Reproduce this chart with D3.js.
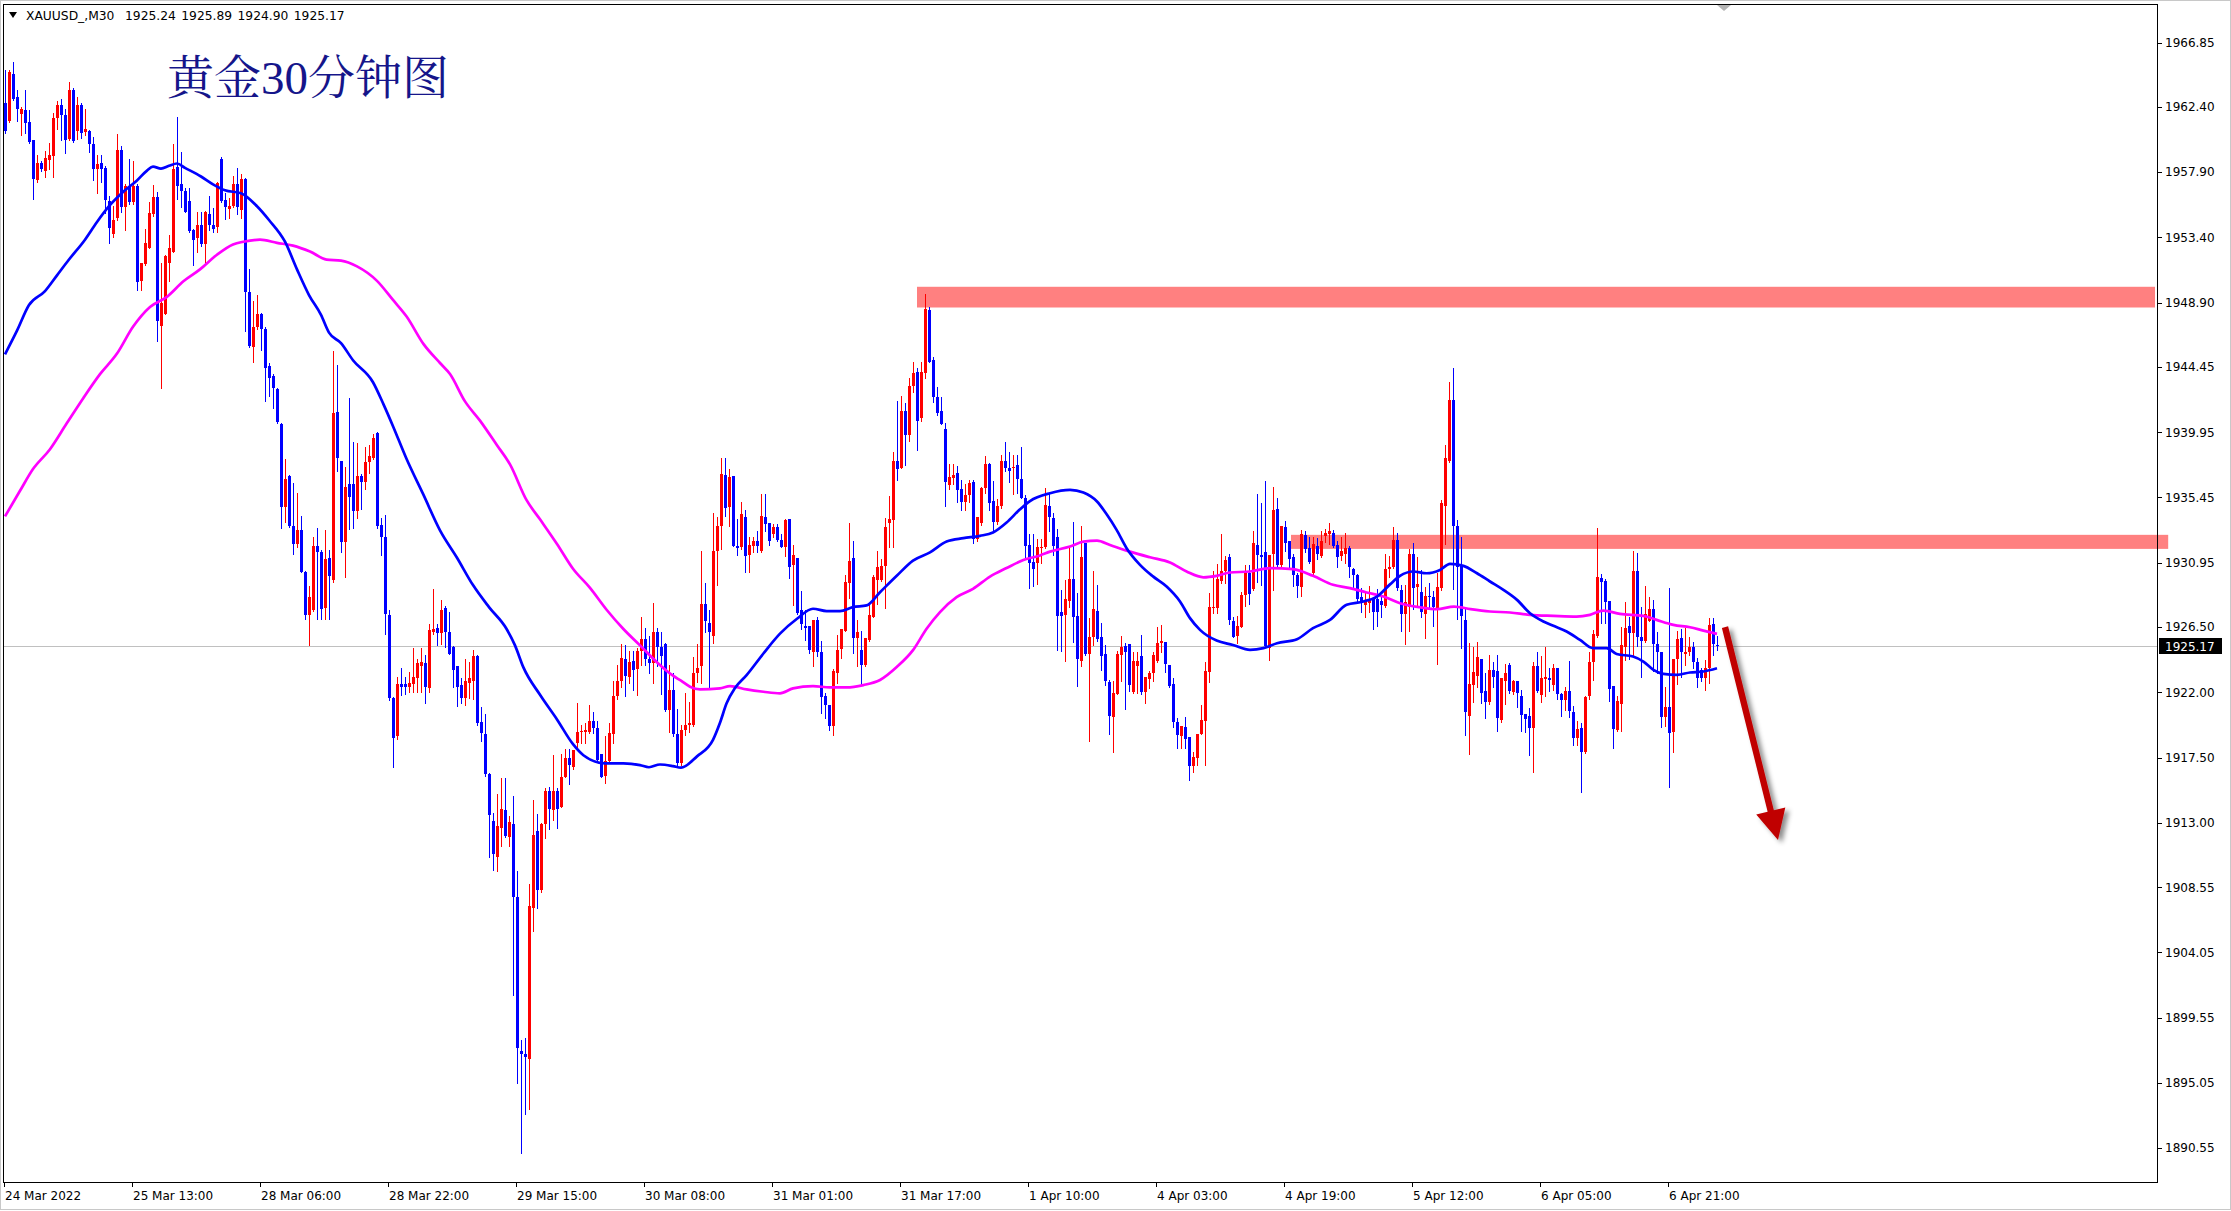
<!DOCTYPE html>
<html><head><meta charset="utf-8">
<script src="https://d3js.org/d3.v7.min.js"></script>
<style>html,body{margin:0;padding:0;background:#fff;overflow:hidden}</style>
</head><body>
<svg id="chart" width="2231" height="1211"></svg>
<script>
// ---------------- DATA ----------------
const symbolName = "XAUUSD_,M30";
const symbolQuotes = "1925.24 1925.89 1924.90 1925.17";
const chartTitle = "黄金30分钟图";
const lastPrice = 1925.17;
// [open, high, low, close] per 30-minute bar
const candles = [
[1962.65,1964.97,1960.6,1960.74],[1961.42,1964.97,1961.37,1964.83],[1964.69,1965.51,1962.85,1962.92],[1963.06,1963.6,1961.42,1962.24],
[1961.91,1962.37,1960.46,1962.24],[1962.18,1963.6,1960.6,1961.28],[1961.36,1962.18,1959.92,1960.0],[1960.11,1960.11,1956.02,1957.46],
[1957.33,1959.1,1957.19,1958.56],[1958.56,1958.69,1958.01,1958.15],[1958.01,1959.37,1957.6,1958.91],[1958.75,1959.92,1958.15,1959.1],
[1959.02,1961.96,1957.6,1961.64],[1961.64,1962.78,1960.87,1962.57],[1962.57,1962.92,1960.11,1961.83],[1961.83,1962.24,1959.24,1960.11],
[1960.19,1964.09,1960.11,1963.6],[1963.6,1963.74,1960.0,1960.06],[1960.74,1963.11,1960.19,1962.51],[1962.57,1962.7,1960.27,1960.6],
[1960.66,1962.24,1960.46,1960.87],[1960.74,1960.8,1959.29,1959.84],[1959.84,1960.33,1957.38,1958.09],[1958.09,1959.1,1956.45,1958.47],
[1958.56,1959.1,1957.19,1958.09],[1958.2,1958.3,1955.09,1955.96],[1955.91,1956.24,1953.02,1954.05],[1953.64,1955.55,1953.45,1954.6],
[1954.74,1960.55,1954.6,1959.43],[1959.43,1959.7,1955.15,1955.47],[1955.5,1957.06,1953.92,1956.92],[1956.92,1958.83,1955.69,1955.83],
[1955.83,1958.64,1955.69,1956.92],[1956.92,1957.11,1949.74,1950.29],[1950.37,1951.6,1949.74,1951.6],[1951.54,1953.97,1951.46,1953.04],
[1952.64,1955.83,1952.64,1955.09],[1955.01,1957.0,1954.87,1956.18],[1956.18,1956.56,1946.28,1947.64],[1947.29,1951.6,1943.0,1948.87],
[1948.1,1952.2,1948.1,1952.09],[1951.6,1953.56,1950.37,1952.69],[1952.42,1959.84,1952.42,1958.15],[1958.28,1961.69,1956.02,1956.92],
[1957.06,1959.29,1955.47,1956.59],[1956.62,1956.78,1955.15,1955.15],[1955.88,1956.84,1953.78,1953.84],[1953.92,1954.0,1951.46,1953.24],
[1953.37,1955.15,1952.42,1954.24],[1954.24,1955.15,1952.83,1952.96],[1952.96,1955.2,1951.6,1955.15],[1955.01,1956.29,1953.92,1954.27],
[1954.27,1955.42,1953.78,1954.0],[1954.11,1957.19,1953.78,1957.14],[1958.83,1958.96,1955.83,1955.91],[1955.96,1956.45,1954.65,1955.47],
[1955.36,1956.1,1954.74,1955.55],[1955.55,1957.65,1955.47,1957.06],[1957.11,1958.2,1955.01,1955.47],[1955.28,1957.74,1954.74,1957.46],
[1957.46,1957.5,1946.91,1949.63],[1949.63,1951.19,1945.81,1945.87],[1945.81,1949.0,1944.78,1947.23],[1947.18,1949.42,1947.1,1948.1],
[1948.1,1948.2,1945.6,1947.1],[1947.1,1947.18,1942.1,1944.37],[1944.51,1944.72,1942.46,1943.69],[1943.83,1943.96,1941.64,1943.0],
[1942.92,1943.0,1940.6,1940.69],[1940.55,1940.6,1933.32,1934.82],[1934.82,1938.09,1933.73,1936.73],[1936.92,1937.0,1933.4,1933.46],
[1933.46,1936.46,1931.55,1932.23],[1932.23,1935.77,1932.0,1933.19],[1933.19,1934.14,1930.3,1930.32],[1930.32,1930.4,1927.05,1927.32],
[1927.32,1929.37,1925.3,1928.55],[1927.65,1932.72,1927.6,1932.09],[1932.09,1933.32,1927.05,1931.68],[1931.68,1931.82,1927.05,1927.73],
[1927.81,1933.19,1927.05,1931.2],[1931.28,1931.82,1927.05,1930.05],[1929.77,1945.54,1929.64,1941.29],[1941.37,1944.56,1937.28,1938.18],
[1937.96,1938.0,1931.68,1932.37],[1932.37,1937.54,1929.97,1936.18],[1936.4,1942.34,1933.26,1935.45],[1936.4,1939.31,1933.37,1934.51],
[1934.51,1939.24,1934.0,1936.9],[1936.9,1937.04,1934.62,1936.51],[1936.51,1938.94,1936.02,1937.91],[1937.91,1939.05,1937.16,1938.29],
[1938.18,1939.81,1938.1,1939.54],[1939.92,1940.0,1933.37,1933.49],[1933.56,1934.0,1931.48,1932.73],[1932.73,1934.24,1926.0,1927.43],
[1927.32,1927.7,1921.5,1921.64],[1921.64,1921.7,1916.83,1918.88],[1918.99,1923.04,1918.8,1922.58],[1922.58,1923.65,1921.83,1922.4],
[1922.58,1923.04,1921.9,1922.4],[1922.4,1923.42,1922.02,1922.66],[1922.58,1925.05,1922.02,1923.04],[1922.96,1924.29,1922.02,1924.02],
[1923.8,1925.05,1922.02,1924.1],[1924.02,1924.55,1921.26,1922.4],[1922.28,1926.75,1922.02,1926.3],[1926.18,1929.1,1926.0,1926.37],
[1926.45,1926.75,1925.24,1926.07],[1926.07,1928.34,1925.31,1927.7],[1927.81,1927.96,1925.16,1926.18],[1926.18,1927.51,1924.67,1924.67],
[1925.16,1925.2,1922.4,1923.53],[1923.8,1923.8,1921.07,1922.4],[1922.5,1922.96,1921.26,1921.64],[1921.64,1924.29,1921.15,1922.77],
[1922.66,1924.1,1921.64,1922.96],[1922.77,1924.93,1921.53,1924.48],[1924.48,1924.55,1919.75,1919.86],[1919.94,1921.0,1918.61,1919.18],
[1919.1,1920.5,1916.23,1916.34],[1916.34,1916.45,1910.66,1913.5],[1913.12,1913.69,1909.72,1910.85],[1910.66,1915.01,1909.64,1912.74],
[1912.67,1916.07,1911.42,1913.95],[1913.88,1916.07,1912.0,1912.06],[1911.99,1913.43,1911.42,1913.05],[1912.93,1914.83,1901.09,1907.9],
[1907.9,1909.64,1895.03,1897.42],[1897.22,1898.0,1890.22,1897.04],[1897.04,1898.17,1892.87,1896.85],[1896.66,1908.77,1893.25,1907.26],
[1907.14,1914.56,1905.55,1912.18],[1912.44,1913.58,1907.14,1908.39],[1908.39,1913.0,1908.2,1912.93],[1912.93,1915.39,1911.92,1915.2],
[1915.2,1915.47,1912.56,1913.95],[1913.88,1917.66,1913.2,1915.2],[1915.2,1915.39,1912.67,1913.95],[1914.07,1917.74,1914.07,1916.15],
[1916.15,1918.12,1916.15,1917.47],[1917.47,1918.12,1915.7,1916.98],[1916.83,1918.04,1916.72,1918.04],[1918.5,1921.26,1918.23,1919.25],
[1919.25,1919.75,1918.5,1919.33],[1919.25,1919.86,1918.5,1919.37],[1919.25,1921.15,1919.18,1920.01],[1920.01,1920.62,1919.18,1919.56],
[1919.56,1920.01,1917.28,1917.36],[1917.74,1917.74,1916.15,1916.15],[1916.23,1918.99,1915.77,1917.28],[1917.28,1919.86,1917.28,1919.18],
[1919.1,1922.77,1918.5,1921.75],[1921.77,1923.91,1921.53,1922.77],[1922.77,1925.31,1922.4,1924.4],[1924.29,1925.24,1921.75,1923.15],
[1923.04,1924.86,1922.66,1924.1],[1924.17,1924.86,1922.13,1923.53],[1923.61,1925.05,1921.83,1924.86],[1924.86,1927.2,1923.91,1925.69],
[1925.69,1926.45,1923.91,1924.29],[1924.29,1925.92,1923.34,1924.02],[1924.02,1928.19,1922.66,1926.18],[1926.18,1926.45,1923.8,1925.16],
[1925.16,1926.18,1921.91,1924.48],[1925.31,1925.4,1920.7,1920.77],[1920.77,1923.91,1919.25,1922.13],[1922.13,1923.34,1918.99,1919.1],
[1919.1,1920.88,1916.98,1917.09],[1917.09,1919.75,1916.98,1919.37],[1919.37,1921.93,1919.07,1919.76],[1919.76,1921.36,1919.23,1919.87],
[1919.76,1924.45,1919.69,1923.35],[1923.3,1925.32,1922.73,1923.65],[1923.81,1931.73,1922.66,1928.11],[1928.11,1929.53,1926.16,1926.92],
[1926.78,1927.7,1922.27,1926.16],[1925.87,1934.4,1925.41,1931.73],[1931.73,1934.11,1929.44,1933.49],[1933.49,1938.14,1931.89,1937.04],
[1936.99,1938.14,1934.18,1934.75],[1934.79,1937.38,1933.49,1936.85],[1936.92,1936.92,1932.12,1932.12],[1932.12,1933.95,1931.5,1931.96],
[1932.0,1935.16,1931.89,1934.34],[1934.11,1934.57,1930.28,1931.43],[1931.5,1932.73,1930.28,1932.18],[1932.12,1932.73,1931.66,1932.46],
[1932.41,1933.15,1931.66,1932.12],[1931.73,1935.71,1931.66,1934.18],[1934.11,1935.71,1933.1,1933.65],[1933.72,1933.72,1932.18,1932.41],
[1932.92,1933.6,1932.69,1933.42],[1933.42,1933.6,1932.46,1932.5],[1932.5,1932.92,1932.0,1932.05],[1932.05,1933.95,1931.43,1933.88],
[1933.95,1933.95,1929.9,1930.67],[1930.81,1932.18,1928.06,1931.5],[1931.27,1931.27,1927.42,1927.47],[1927.65,1928.98,1926.39,1926.69],
[1926.55,1927.7,1925.59,1926.46],[1926.55,1926.55,1924.72,1924.95],[1924.79,1927.01,1923.81,1927.01],[1927.01,1927.2,1924.49,1924.79],
[1924.79,1925.55,1920.55,1921.7],[1921.75,1921.93,1920.21,1921.13],[1921.13,1921.13,1919.41,1919.69],[1919.69,1923.58,1919.07,1923.49],
[1923.35,1925.94,1922.66,1924.95],[1925.02,1926.39,1924.4,1926.39],[1926.23,1930.12,1926.23,1929.6],[1929.53,1933.72,1928.52,1931.09],
[1931.27,1932.46,1924.68,1925.78],[1925.78,1927.01,1923.81,1926.16],[1924.95,1926.23,1922.5,1923.88],[1923.88,1925.78,1923.81,1925.78],
[1925.64,1928.0,1925.55,1927.31],[1927.2,1930.12,1927.2,1929.99],[1929.76,1931.73,1928.11,1930.67],[1929.76,1931.2,1929.71,1930.74],
[1930.74,1934.06,1927.84,1933.42],[1933.72,1935.55,1932.0,1933.95],[1933.88,1938.59,1932.0,1938.0],[1937.95,1942.12,1936.63,1937.38],
[1937.49,1942.48,1937.45,1941.39],[1941.39,1941.96,1937.68,1939.78],[1939.78,1943.72,1939.33,1943.17],[1943.17,1944.77,1942.71,1944.02],
[1944.09,1944.36,1938.75,1940.75],[1940.93,1944.77,1940.75,1944.13],[1944.02,1949.51,1943.72,1948.48],[1948.37,1948.6,1944.77,1944.82],
[1944.93,1945.16,1942.03,1942.35],[1942.35,1943.1,1941.16,1941.27],[1941.39,1942.35,1940.52,1940.52],[1940.2,1940.58,1934.86,1936.53],
[1936.3,1937.77,1936.0,1936.85],[1936.76,1937.77,1936.35,1936.99],[1937.15,1937.61,1935.16,1935.94],[1936.0,1936.63,1934.57,1935.16],
[1935.16,1936.35,1934.57,1935.62],[1935.62,1936.63,1935.16,1936.46],[1936.53,1936.63,1932.28,1932.57],[1932.57,1934.11,1932.41,1934.11],
[1933.72,1936.17,1933.56,1936.08],[1936.08,1938.3,1935.78,1937.77],[1937.77,1937.84,1934.57,1935.09],[1935.2,1936.58,1933.19,1933.79],
[1933.79,1935.32,1933.65,1934.86],[1934.86,1938.36,1934.7,1938.0],[1937.95,1939.28,1937.31,1937.5],[1937.5,1938.59,1936.53,1937.31],
[1937.45,1938.41,1935.71,1937.54],[1937.68,1938.41,1935.78,1936.69],[1936.69,1938.91,1935.43,1935.43],[1935.43,1935.62,1931.36,1932.12],
[1932.18,1932.92,1929.21,1930.9],[1930.97,1932.92,1929.37,1930.51],[1930.9,1932.6,1929.5,1932.06],[1931.99,1932.57,1930.91,1932.05],
[1932.01,1936.09,1931.95,1934.94],[1934.87,1935.74,1933.1,1934.08],[1934.01,1934.4,1931.48,1932.11],[1932.7,1933.25,1924.93,1927.28],
[1927.51,1929.07,1924.88,1927.28],[1927.35,1929.76,1924.19,1928.43],[1928.27,1931.95,1927.9,1929.81],[1929.81,1933.79,1925.5,1927.18],
[1927.28,1928.84,1922.45,1924.29],[1924.13,1933.49,1923.83,1931.32],[1932.29,1932.29,1924.58,1924.65],[1924.65,1927.11,1918.67,1925.8],
[1925.8,1930.4,1925.27,1927.74],[1927.58,1929.42,1925.57,1925.67],[1925.8,1926.77,1923.55,1924.52],[1924.65,1925.27,1922.51,1922.81],
[1922.68,1922.86,1919.13,1920.38],[1920.33,1922.75,1917.85,1921.94],[1921.9,1924.88,1921.9,1924.65],[1924.59,1925.9,1922.75,1925.11],
[1925.21,1925.39,1920.84,1924.81],[1925.34,1925.34,1922.12,1922.51],[1922.05,1924.81,1921.98,1924.19],[1923.83,1924.81,1921.94,1924.19],
[1924.52,1925.96,1921.89,1922.05],[1922.05,1923.09,1921.25,1923.09],[1922.91,1923.44,1922.29,1923.32],[1923.32,1924.81,1922.75,1924.59],
[1924.19,1926.54,1924.06,1925.39],[1925.39,1926.65,1924.75,1925.57],[1925.44,1925.5,1923.37,1923.96],[1923.9,1923.9,1922.4,1922.45],
[1922.58,1922.98,1919.59,1919.92],[1919.92,1920.21,1918.14,1919.06],[1918.99,1919.69,1918.14,1919.69],[1919.64,1920.28,1918.14,1918.77],
[1918.9,1918.9,1915.96,1916.93],[1916.93,1917.85,1916.47,1917.52],[1917.46,1919.13,1916.99,1919.13],[1919.13,1921.14,1919.13,1920.1],
[1919.99,1924.06,1916.99,1923.44],[1923.37,1928.84,1922.68,1927.92],[1927.87,1930.34,1927.5,1927.92],[1927.81,1930.86,1927.5,1929.81],
[1929.71,1932.93,1929.57,1930.4],[1930.34,1931.42,1929.57,1931.14],[1931.32,1931.55,1926.72,1927.0],[1926.95,1927.18,1925.8,1925.85],
[1925.9,1927.28,1925.39,1926.59],[1926.54,1928.95,1926.5,1928.72],[1928.72,1930.8,1927.97,1930.27],[1930.27,1930.8,1928.1,1928.79],
[1929.12,1933.16,1929.07,1932.29],[1932.17,1935.69,1929.58,1931.48],[1931.48,1935.1,1929.42,1931.32],[1931.71,1936.61,1925.16,1925.21],
[1925.05,1931.5,1924.24,1931.48],[1931.55,1936.15,1929.07,1934.59],[1934.64,1935.4,1930.72,1930.8],[1930.8,1933.49,1930.72,1933.49],
[1933.44,1933.85,1931.78,1932.34],[1932.41,1932.41,1930.63,1931.19],[1931.32,1931.55,1929.35,1930.1],[1930.1,1930.27,1928.61,1929.35],
[1929.3,1933.21,1928.66,1932.93],[1932.86,1933.1,1931.71,1931.88],[1931.95,1932.7,1930.96,1931.02],[1930.27,1932.7,1930.18,1932.24],
[1932.1,1932.63,1931.19,1931.55],[1931.42,1933.16,1931.32,1932.47],[1932.79,1933.25,1932.4,1933.03],[1932.93,1933.72,1932.24,1933.1],
[1933.03,1933.21,1932.01,1932.1],[1932.17,1932.47,1930.63,1931.32],[1931.42,1932.7,1931.14,1931.78],[1931.55,1933.03,1930.96,1931.95],
[1931.95,1932.1,1929.94,1930.68],[1930.5,1930.56,1929.3,1930.1],[1930.1,1930.17,1928.33,1928.43],[1928.61,1929.18,1927.51,1928.33],
[1928.03,1928.84,1927.23,1928.33],[1928.15,1929.35,1927.51,1928.43],[1928.43,1928.43,1926.36,1927.51],[1928.43,1929.12,1926.59,1927.51],
[1928.33,1928.61,1927.23,1928.03],[1927.97,1931.55,1927.92,1930.5],[1930.5,1931.42,1929.94,1930.68],[1930.68,1933.39,1930.57,1932.52],
[1932.52,1933.03,1929.03,1929.19],[1929.03,1929.42,1926.26,1927.41],[1927.41,1929.42,1925.34,1928.26],[1927.87,1931.88,1926.2,1931.55],
[1931.55,1932.29,1927.74,1929.19],[1929.26,1931.37,1927.92,1929.48],[1928.89,1930.45,1927.18,1927.51],[1927.41,1929.3,1925.73,1928.66],
[1928.66,1929.53,1927.8,1928.56],[1928.56,1928.96,1926.59,1927.87],[1927.8,1930.22,1923.96,1929.3],[1929.19,1935.24,1929.07,1935.05],
[1934.87,1939.08,1932.24,1938.16],[1938.0,1943.45,1937.93,1942.18],[1942.18,1944.37,1929.12,1933.49],[1933.49,1933.9,1927.05,1930.63],
[1930.8,1932.75,1925.05,1927.28],[1926.99,1927.74,1919.06,1920.67],[1920.38,1925.39,1917.75,1922.58],[1922.52,1925.11,1921.3,1923.37],
[1923.14,1925.44,1922.4,1924.42],[1924.29,1924.29,1921.25,1921.94],[1922.06,1923.32,1920.21,1921.3],[1921.3,1924.58,1921.2,1923.55],
[1923.55,1924.06,1922.4,1923.09],[1923.5,1924.58,1919.3,1920.21],[1920.1,1922.98,1919.92,1922.98],[1922.75,1923.96,1921.2,1923.32],
[1923.89,1924.01,1921.94,1922.06],[1921.99,1922.86,1921.89,1922.81],[1922.75,1922.81,1921.02,1921.94],[1921.76,1922.17,1919.3,1920.45],
[1920.52,1920.52,1919.23,1920.15],[1920.38,1920.91,1917.68,1919.53],[1919.53,1924.06,1916.47,1923.83],[1923.83,1924.75,1921.99,1922.06],
[1921.83,1924.52,1921.3,1922.98],[1922.91,1925.16,1921.76,1923.05],[1922.98,1923.67,1922.06,1922.86],[1922.52,1923.96,1922.17,1923.67],
[1923.67,1923.67,1921.53,1921.89],[1921.89,1921.94,1920.38,1921.48],[1921.48,1922.35,1920.75,1922.06],[1922.06,1924.19,1920.33,1920.68],
[1920.61,1921.07,1918.38,1918.84],[1918.84,1919.99,1918.38,1919.46],[1919.53,1919.87,1915.09,1917.91],[1917.85,1921.76,1917.8,1921.66],
[1921.76,1924.81,1921.53,1924.12],[1924.12,1926.31,1922.86,1926.03],[1925.89,1933.32,1925.85,1929.94],[1929.87,1930.17,1926.77,1929.58],
[1929.65,1929.81,1926.77,1928.26],[1928.33,1928.33,1921.43,1922.22],[1922.45,1922.45,1918.14,1919.46],[1919.41,1921.76,1919.36,1921.43],
[1921.2,1926.54,1919.36,1925.27],[1925.16,1928.26,1924.24,1926.43],[1926.59,1927.18,1924.29,1926.08],[1926.08,1931.78,1924.42,1930.34],
[1930.34,1931.6,1925.21,1925.8],[1925.85,1927.92,1923.09,1925.57],[1925.57,1929.35,1925.5,1927.41],[1926.95,1928.61,1926.89,1927.74],
[1927.74,1928.38,1923.44,1925.34],[1925.34,1926.13,1923.32,1924.75],[1924.75,1924.81,1919.64,1920.33],[1920.33,1922.4,1919.69,1920.97],
[1921.02,1929.18,1915.45,1919.18],[1919.23,1924.29,1917.85,1924.29],[1924.29,1926.26,1922.58,1925.67],[1925.74,1926.36,1923.04,1924.81],
[1924.65,1926.43,1923.89,1924.81],[1924.81,1925.8,1924.58,1925.11],[1925.11,1925.44,1923.67,1924.06],[1924.12,1924.35,1922.35,1922.98],
[1923.55,1923.67,1922.81,1922.98],[1922.98,1924.24,1922.17,1923.67],[1923.67,1927.11,1922.63,1926.66],[1926.72,1927.11,1924.59,1925.34],
[1925.24,1925.89,1924.9,1925.17]
];
// moving averages: [bar index, value]
const fastMA = [
[0,1945.33],[3,1946.96],[6,1948.73],[10,1949.69],[13,1950.78],[16,1951.87],[20,1953.24],[23,1954.46],[26,1955.55],[30,1956.65],
[33,1957.33],[35.5,1958.01],[37,1958.28],[39,1958.15],[41,1958.34],[43,1958.5],[45,1958.2],[49,1957.6],[52,1957.06],[55,1956.65],
[59,1956.45],[63,1955.55],[66,1954.6],[70,1953.1],[73,1951.19],[76,1949.42],[79,1948.05],[81,1946.83],[84,1946.1],[87,1944.92],
[92,1943.4],[94.6,1941.89],[97,1940.37],[100.4,1938.1],[104.6,1935.64],[108.75,1933.18],[113,1931.29],[117,1929.4],[121,1927.88],
[125.4,1926.37],[127.5,1925.24],[129.6,1923.72],[133.75,1921.83],[138,1920.13],[142,1918.42],[144.6,1917.66],[150,1917.1],
[154.6,1917.1],[158.75,1916.98],[161,1916.83],[163.75,1917.02],[167,1916.91],[169,1916.8],[173,1917.58],[177,1918.72],
[178.75,1919.9],[180.4,1921.24],[182.5,1922.3],[185.4,1923.19],[189.6,1924.68],[193.75,1926.05],[198,1927.08],[202,1927.77],
[205.4,1927.61],[208.75,1927.61],[212,1927.88],[215.4,1928.0],[218.75,1928.91],[223,1930.06],[227,1931.09],[231.25,1931.66],
[235.4,1932.41],[239.6,1932.64],[243.75,1932.8],[247,1933.03],[250.4,1933.72],[253.75,1934.63],[256.25,1935.2],[261.25,1935.74],
[266.25,1935.97],[269.6,1935.79],[273,1935.17],[275.5,1934.25],[277.9,1933.21],[280.4,1931.95],[283.75,1930.8],[287,1930.0],
[290.4,1929.3],[293.75,1928.27],[296.25,1927.12],[298.75,1926.31],[302.9,1925.57],[307,1925.27],[311.25,1924.93],[314.6,1925.05],
[318,1925.39],[323,1925.67],[327,1926.43],[331.25,1927.0],[335.4,1928.04],[339.6,1928.27],[343,1928.61],[346.25,1929.45],
[348.75,1930.04],[352,1930.34],[355.4,1930.22],[358.75,1930.45],[361.25,1930.86],[364.6,1930.73],[368,1930.22],[371.25,1929.65],
[374.6,1929.07],[378,1928.38],[381.25,1927.46],[384.6,1926.89],[387.1,1926.59],[390.4,1926.2],[393.75,1925.62],[397,1925.05],
[400.4,1925.05],[402.9,1924.65],[407,1924.47],[409.6,1924.12],[412.1,1923.55],[414.6,1923.27],[418,1923.21],[421.25,1923.37],
[424.6,1923.44],[428,1923.66]
];
const slowMA = [
[0,1934.14],[3.75,1935.91],[7,1937.41],[11.25,1938.78],[15.4,1940.55],[19.6,1942.32],[23.75,1943.96],[28,1945.38],[32,1947.23],
[36.25,1948.6],[40.4,1949.28],[44.6,1950.37],[48.75,1951.19],[53,1952.2],[57,1952.91],[59.6,1953.1],[63.75,1953.24],[68,1953.02],
[72,1952.83],[76.25,1952.42],[80.4,1951.87],[84,1951.8],[88,1951.4],[93,1950.4],[97,1949.08],[100.4,1947.94],[104.6,1946.05],
[108.75,1944.73],[111.25,1943.97],[115,1942.08],[118.75,1940.75],[123,1939.05],[126.25,1937.73],[130.4,1935.26],[133.75,1933.94],
[138,1932.24],[142,1930.53],[146.25,1929.21],[150.4,1927.7],[154.6,1926.37],[158.75,1925.24],[162.9,1924.1],[167,1923.15],
[169,1922.8],[171.25,1922.39],[173.75,1922.2],[178.75,1922.27],[181.25,1922.43],[185.4,1922.2],[189.6,1922.04],[193.75,1921.93],
[197,1922.27],[202,1922.43],[206.25,1922.34],[210.4,1922.34],[214.6,1922.5],[218.75,1922.85],[223,1923.76],[227,1924.91],
[230.4,1926.39],[233.75,1927.54],[237.9,1928.57],[242,1929.14],[246.25,1929.99],[250.4,1930.58],[254.6,1931.13],[258.75,1931.45],
[261.25,1931.71],[266.25,1932.06],[269.6,1932.4],[273,1932.47],[276.25,1932.17],[281.25,1931.71],[286.25,1931.32],[291.25,1930.96],
[295.4,1930.34],[299.6,1929.94],[302.9,1930.04],[306.25,1930.27],[311.25,1930.34],[316.25,1930.57],[322,1930.5],[327,1930.04],
[332,1929.42],[336.25,1929.19],[340.4,1928.89],[344.6,1928.61],[348.75,1928.15],[353.75,1927.87],[358,1927.74],[362.25,1927.92],
[366.4,1927.74],[371.25,1927.58],[376.25,1927.51],[381.25,1927.35],[387.1,1927.28],[392.9,1927.23],[396.25,1927.35],[399.6,1927.64],
[403.75,1927.41],[409.6,1927.28],[412.9,1927.0],[417.1,1926.66],[421.25,1926.49],[424.6,1926.26],[428,1926.03]
];
const priceTickLabels = ["1966.85","1962.40","1957.90","1953.40","1948.90","1944.45","1939.95","1935.45","1930.95",
  "1926.50","1922.00","1917.50","1913.00","1908.55","1904.05","1899.55","1895.05","1890.55"];
const timeTickLabels = ["24 Mar 2022","25 Mar 13:00","28 Mar 06:00","28 Mar 22:00","29 Mar 15:00","30 Mar 08:00",
  "31 Mar 01:00","31 Mar 17:00","1 Apr 10:00","4 Apr 03:00","4 Apr 19:00","5 Apr 12:00","6 Apr 05:00","6 Apr 21:00"];
const timeTickBars = [0,32,64,96,128,160,192,224,256,288,320,352,384,416];
// resistance zones: [start bar, end bar, top price, bottom price]
const zones = [[228.5,538,1949.99,1948.56],[322,541.3,1932.87,1931.9]];
// forecast arrow: [bar, price] from -> to
const arrowFrom = [430,1926.5];
const arrowTo = [443.25,1911.8];

// ---------------- LAYOUT ----------------
const W = 2231, H = 1211;
const plot = {left:3, top:4, right:2157, bottom:1182};
const svg = d3.select("#chart");
const x = d3.scaleLinear().domain([0, 428]).range([5, 1717]);
const y = d3.scaleLinear().domain([1890.55, 1966.85]).range([1148, 42.5]);
const font = "'DejaVu Sans', Verdana, sans-serif";

const defs = svg.append("defs");
const clip = defs.append("clipPath").attr("id","plotclip");
clip.append("rect").attr("x",plot.left).attr("y",plot.top).attr("width",plot.right-plot.left).attr("height",plot.bottom-plot.top);
const sh = defs.append("filter").attr("id","shadow").attr("x","-50%").attr("y","-20%").attr("width","200%").attr("height","140%");
sh.append("feDropShadow").attr("dx",4).attr("dy",3).attr("stdDeviation",2.5).attr("flood-color","#000").attr("flood-opacity",0.45);

svg.append("rect").attr("x",0).attr("y",0).attr("width",W).attr("height",H).attr("fill","#fff");
svg.append("rect").attr("x",0.5).attr("y",0.5).attr("width",W-1).attr("height",H-2).attr("fill","none").attr("stroke","#c8c8c8");

// zones (under candles)
const zg = svg.append("g");
zg.selectAll("rect").data(zones).join("rect")
  .attr("x", d => x(d[0]) - 2).attr("y", d => y(d[2]))
  .attr("width", d => x(d[1]) - x(d[0]))
  .attr("height", d => y(d[3]) - y(d[2]))
  .attr("fill", "#ff8080");

// current price line
svg.append("line").attr("x1",plot.left).attr("x2",plot.right).attr("y1",Math.round(y(lastPrice))+0.5).attr("y2",Math.round(y(lastPrice))+0.5)
  .attr("stroke","#c0c0c0").attr("stroke-width",1);

// candles
const cg = svg.append("g").attr("clip-path","url(#plotclip)").attr("shape-rendering","crispEdges");
const bars = cg.selectAll("g").data(candles).join("g");
bars.append("line")
  .attr("x1",(d,i)=>Math.round(x(i))+0.5).attr("x2",(d,i)=>Math.round(x(i))+0.5)
  .attr("y1",d=>Math.round(y(d[1]))).attr("y2",d=>Math.round(y(d[2]))+1)
  .attr("stroke",d=>d[3]>=d[0]?"#ff0000":"#0000ff").attr("stroke-width",1);
bars.append("rect")
  .attr("x",(d,i)=>Math.round(x(i))-1)
  .attr("y",d=>Math.round(y(Math.max(d[0],d[3]))))
  .attr("width",3)
  .attr("height",d=>Math.max(1, Math.round(y(Math.min(d[0],d[3]))) - Math.round(y(Math.max(d[0],d[3])))))
  .attr("fill",d=>d[3]>=d[0]?"#ff0000":"#0000ff");

// moving averages
const line = d3.line().x(d=>x(d[0])).y(d=>y(d[1])).curve(d3.curveMonotoneX);
svg.append("path").attr("d",line(slowMA)).attr("fill","none").attr("stroke","#ff00ff").attr("stroke-width",2.7).attr("clip-path","url(#plotclip)");
svg.append("path").attr("d",line(fastMA)).attr("fill","none").attr("stroke","#0000ff").attr("stroke-width",2.7).attr("clip-path","url(#plotclip)");

// plot frame
svg.append("rect").attr("x",plot.left+0.5).attr("y",plot.top+0.5)
  .attr("width",plot.right-plot.left).attr("height",plot.bottom-plot.top)
  .attr("fill","none").attr("stroke","#000").attr("stroke-width",1).attr("shape-rendering","crispEdges");

// right price axis
const pa = svg.append("g");
pa.selectAll("line").data(priceTickLabels).join("line")
  .attr("x1",plot.right+1).attr("x2",plot.right+5)
  .attr("y1",d=>Math.round(y(+d))+0.5).attr("y2",d=>Math.round(y(+d))+0.5)
  .attr("stroke","#000").attr("shape-rendering","crispEdges");
pa.selectAll("text").data(priceTickLabels).join("text")
  .attr("x",plot.right+8).attr("y",d=>y(+d)).attr("dy","0.36em")
  .attr("font-family",font).attr("font-size",12).attr("fill","#000").text(d=>d);

// last price tag
const ly = y(lastPrice);
svg.append("rect").attr("x",plot.right+2).attr("y",Math.round(ly)-8).attr("width",63).attr("height",16).attr("fill","#000");
svg.append("text").attr("x",plot.right+8).attr("y",ly).attr("dy","0.36em")
  .attr("font-family",font).attr("font-size",12).attr("fill","#fff").text(lastPrice.toFixed(2));

// bottom time axis
const ta = svg.append("g");
ta.selectAll("line").data(timeTickBars).join("line")
  .attr("x1",d=>Math.round(x(d))-0.5).attr("x2",d=>Math.round(x(d))-0.5)
  .attr("y1",plot.bottom+1).attr("y2",plot.bottom+5)
  .attr("stroke","#000").attr("shape-rendering","crispEdges");
ta.selectAll("text").data(timeTickBars).join("text")
  .attr("x",d=>x(d)).attr("y",plot.bottom+18)
  .attr("font-family",font).attr("font-size",12).attr("fill","#000")
  .text((d,i)=>timeTickLabels[i]);

// header
svg.append("path").attr("d","M9,12 L17,12 L13,18 Z").attr("fill","#000");
svg.append("text").attr("x",26).attr("y",20).attr("font-family",font).attr("font-size",12.3).attr("fill","#000").text(symbolName);
svg.append("text").attr("x",125).attr("y",20).attr("font-family",font).attr("font-size",12.3).attr("fill","#000")
  .attr("word-spacing",1.5).text(symbolQuotes);

// chart shift marker
svg.append("path").attr("d",`M${x(428)},5 L${x(428)+14},5 L${x(428)+7},11 Z`).attr("fill","#b4b4b4");

// title
svg.append("text").attr("x",167).attr("y",94)
  .attr("font-family","'Liberation Serif','Noto Serif CJK SC','Noto Sans CJK SC',serif")
  .attr("font-size",47).attr("fill","#15158a").text(chartTitle);

// arrow
const p0 = [x(arrowFrom[0]), y(arrowFrom[1])], p1 = [x(arrowTo[0]), y(arrowTo[1])];
const dx = p1[0]-p0[0], dy = p1[1]-p0[1], len = Math.hypot(dx,dy);
const ux = dx/len, uy = dy/len, nx = -uy, ny = ux;
const sw = 3.2, hl = 30, hw = 15;
const bx = p1[0]-ux*hl, by = p1[1]-uy*hl;
const pts = [
  [p0[0]+nx*sw, p0[1]+ny*sw],[bx+nx*sw, by+ny*sw],[bx+nx*hw, by+ny*hw],[p1[0],p1[1]],
  [bx-nx*hw, by-ny*hw],[bx-nx*sw, by-ny*sw],[p0[0]-nx*sw, p0[1]-ny*sw]
];
svg.append("path").attr("d","M"+pts.map(p=>p.join(",")).join("L")+"Z")
  .attr("fill","#c00000").attr("filter","url(#shadow)");
</script>
</body></html>
